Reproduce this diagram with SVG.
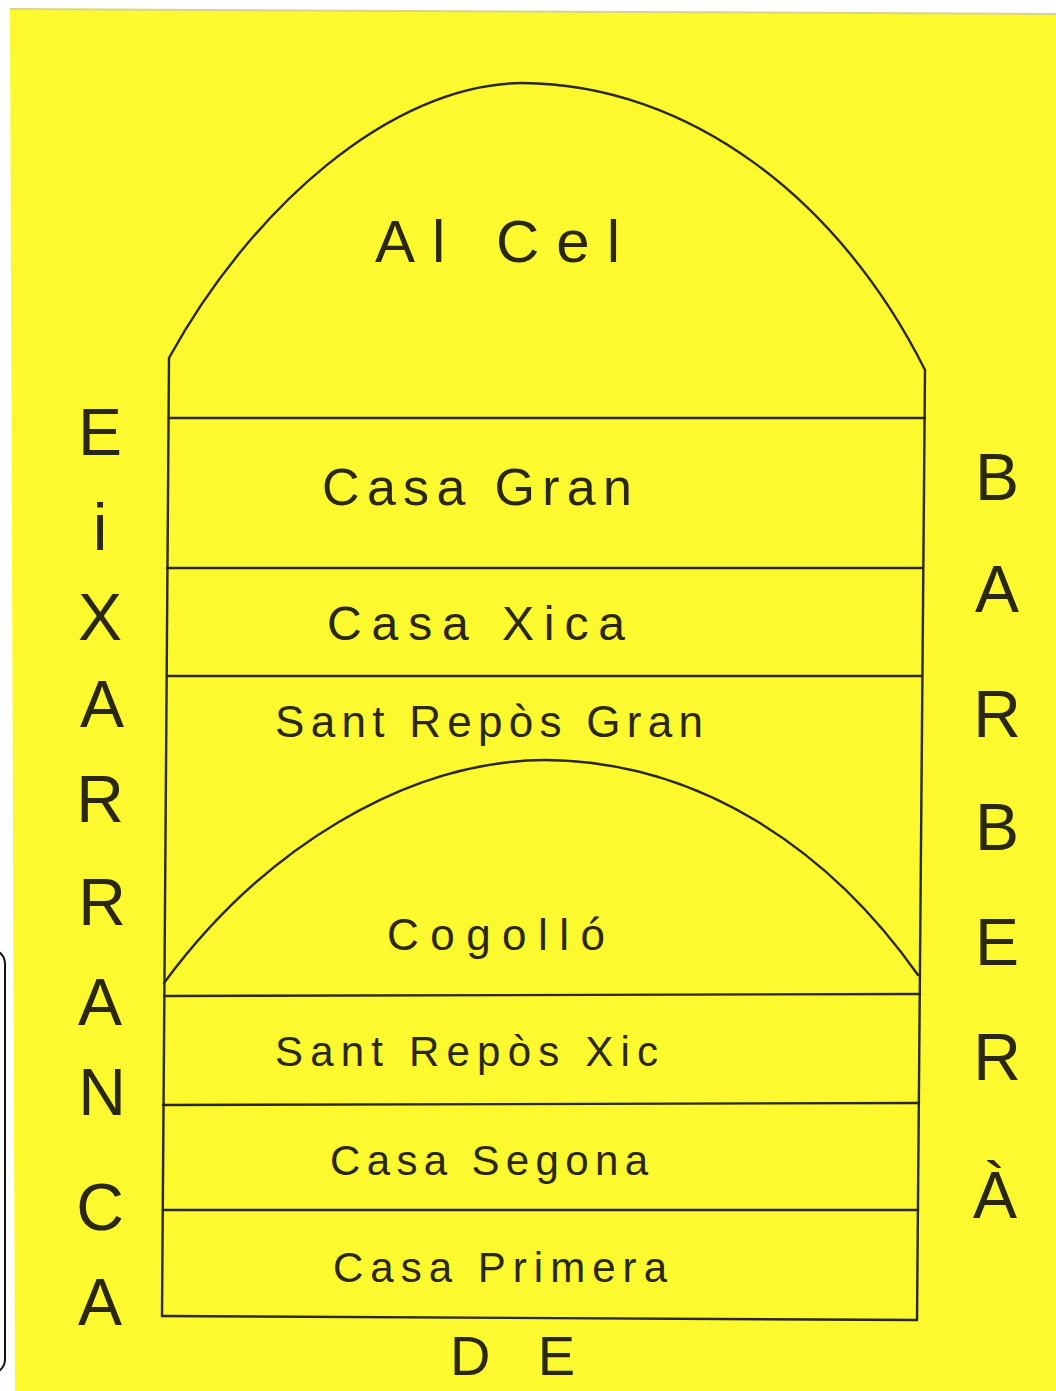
<svg xmlns="http://www.w3.org/2000/svg" width="1056" height="1391" viewBox="0 0 1056 1391">
<style>
.ln{fill:none;stroke:#2a2812;stroke-width:2.4;stroke-linecap:round;stroke-linejoin:round}
.t{font-family:"Liberation Sans","DejaVu Sans",sans-serif;fill:#2a2812}
.lbl{font-size:46px}
.side{font-size:66px;text-anchor:middle}
</style>
<rect x="0" y="0" width="1056" height="1391" fill="#ffffff"/>
<polygon points="10,9 1056,14 1056,1391 15,1391" fill="#fcf92e"/>
<line x1="10" y1="9" x2="1056" y2="14" stroke="#d8d48a" stroke-width="2"/>
<rect x="-20" y="950" width="25" height="423" rx="14" fill="none" stroke="#111" stroke-width="2"/>
<g id="connectors">
<path class="ln" d="M169,358 C250,210 390,84 522,83 C690,84 840,200 925,370"/>
<path class="ln" d="M164,983 C262,850 405,761 545,760 C700,761 830,850 918,975"/>
<path class="ln" d="M169,358 L162,1316"/>
<path class="ln" d="M925,370 L917,1320"/>
<path class="ln" d="M162,1316 L917,1320"/>
</g>
<g id="al-cel"><text class="t" x="375" y="262" font-size="60" textLength="245" lengthAdjust="spacing">Al Cel</text></g>
<g id="casa-gran"><line class="ln" x1="169" y1="418" x2="925" y2="418"/><text class="t" x="322" y="505" font-size="52" textLength="310" lengthAdjust="spacing">Casa Gran</text></g>
<g id="casa-xica"><line class="ln" x1="167" y1="568" x2="923" y2="568"/><text class="t" x="327" y="640" font-size="48" textLength="298" lengthAdjust="spacing">Casa Xica</text></g>
<g id="sant-repos-gran"><line class="ln" x1="167" y1="676" x2="922" y2="676"/><text class="t" x="275" y="737" font-size="44" textLength="428" lengthAdjust="spacing">Sant Repòs Gran</text></g>
<g id="cogollo"><text class="t" x="387" y="950" font-size="44" textLength="218" lengthAdjust="spacing">Cogolló</text></g>
<g id="sant-repos-xic"><line class="ln" x1="164" y1="996" x2="920" y2="994"/><text class="t" x="275" y="1066" font-size="42" textLength="383" lengthAdjust="spacing">Sant Repòs Xic</text></g>
<g id="casa-segona"><line class="ln" x1="163" y1="1105" x2="919" y2="1103"/><text class="t" x="330" y="1175" font-size="42" textLength="318" lengthAdjust="spacing">Casa Segona</text></g>
<g id="casa-primera"><line class="ln" x1="163" y1="1210" x2="918" y2="1210"/><text class="t" x="333" y="1282" font-size="42" textLength="334" lengthAdjust="spacing">Casa Primera</text></g>
<g id="eixarranca">
<text class="t side" x="100" y="455">E</text>
<text class="t side" x="100" y="550">i</text>
<text class="t side" x="100" y="640">X</text>
<text class="t side" x="102" y="727">A</text>
<text class="t side" x="100" y="822">R</text>
<text class="t side" x="102" y="925">R</text>
<text class="t side" x="100" y="1025">A</text>
<text class="t side" x="102" y="1115">N</text>
<text class="t side" x="100" y="1230">C</text>
<text class="t side" x="100" y="1325">A</text>
</g>
<g id="barbera">
<text class="t side" x="997" y="500">B</text>
<text class="t side" x="997" y="612">A</text>
<text class="t side" x="997" y="737">R</text>
<text class="t side" x="997" y="850">B</text>
<text class="t side" x="997" y="965">E</text>
<text class="t side" x="997" y="1080">R</text>
<text class="t side" x="995" y="1218">À</text>
</g>
<g id="de"><text class="t" x="450" y="1375" font-size="56" textLength="125" lengthAdjust="spacing">D E</text></g>
</svg>
